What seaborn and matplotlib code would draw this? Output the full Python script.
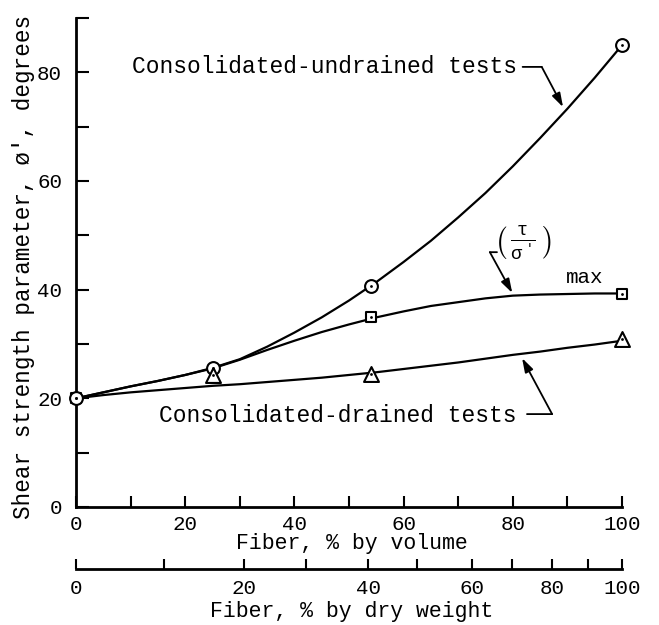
import numpy as np
import pandas as pd
import matplotlib
matplotlib.use("Agg")
import matplotlib.pyplot as plt
import seaborn as sns

# ---- data ----
# measured points (fiber % by volume)
vol_undrained = [0, 25, 54, 100]
phi_undrained = [20.0, 25.5, 40.7, 85.0]
vol_tau = [0, 54, 100]
phi_tau = [20.0, 34.9, 39.2]
vol_drained = [25, 54, 100]
phi_drained = [24.3, 24.5, 30.9]

# traced curves (every 5 % by volume)
curve_x = [0, 5, 10, 15, 20, 25, 30, 35, 40, 45, 50,
           55, 60, 65, 70, 75, 80, 85, 90, 95, 100]
undrained_curve = [20.0, 21.1, 22.2, 23.2, 24.3, 25.6, 27.2, 29.5, 32.1, 34.9, 38.0,
                   41.4, 45.1, 49.0, 53.3, 57.8, 62.7, 67.9, 73.3, 79.0, 85.0]
tau_curve = [20.0, 21.1, 22.2, 23.2, 24.3, 25.5, 27.1, 28.9, 30.6, 32.2, 33.6,
             34.9, 36.0, 37.0, 37.7, 38.4, 38.9, 39.1, 39.2, 39.3, 39.3]
drained_curve = [20.0, 20.6, 21.1, 21.5, 21.9, 22.3, 22.6, 23.0, 23.4, 23.8, 24.3,
                 24.8, 25.4, 26.0, 26.6, 27.3, 28.0, 28.6, 29.3, 29.9, 30.6]

# axis ticks
vol_ticks = [0, 10, 20, 30, 40, 50, 60, 70, 80, 90, 100]
vol_labels = ["0", "", "20", "", "40", "", "60", "", "80", "", "100"]
y_ticks = [0, 10, 20, 30, 40, 50, 60, 70, 80, 90]
y_labels = ["0", "", "20", "", "40", "", "60", "", "80", ""]
# dry-weight scale: tick values and their position on the volume scale
dw_ticks = [0, 10, 20, 30, 40, 50, 60, 70, 80, 90, 100]
dw_pos_vol = [0, 16.1, 30.8, 42.1, 53.5, 62.5, 72.5, 79.9, 87.2, 93.8, 100]
dw_labels = ["0", "", "20", "", "40", "", "60", "", "80", "", "100"]

sns.set_theme(style="ticks")
plt.rcParams["font.family"] = ["Liberation Mono", "DejaVu Sans"]
plt.rcParams["mathtext.fontset"] = "custom"
plt.rcParams["mathtext.rm"] = "Liberation Mono"
plt.rcParams["mathtext.it"] = "Liberation Mono"
plt.rcParams["mathtext.tt"] = "Liberation Mono"

fig = plt.figure(figsize=(6.59, 6.25), dpi=100)
ax = fig.add_axes([76 / 659, 1 - 507 / 625, 546 / 659, 489 / 625])

lw = 1.6
for cy in (undrained_curve, tau_curve, drained_curve):
    sns.lineplot(x=curve_x, y=cy, ax=ax, color="black", linewidth=lw,
                 clip_on=False, zorder=2)

mk = dict(facecolor="white", edgecolor="black", linewidth=1.5, clip_on=False, zorder=4)
sns.scatterplot(x=vol_tau, y=phi_tau, ax=ax, marker="s", s=55, **mk)
sns.scatterplot(x=vol_undrained, y=phi_undrained, ax=ax, marker="o", s=85, **mk)
sns.scatterplot(x=vol_drained, y=phi_drained, ax=ax, marker="^", s=115, **mk)
for xs, ys in ((vol_tau, phi_tau), (vol_undrained, phi_undrained), (vol_drained, phi_drained)):
    sns.scatterplot(x=xs, y=ys, ax=ax, marker="o", s=4, color="black",
                    linewidth=0, clip_on=False, zorder=5)

ax.set_xlim(0, 100)
ax.set_ylim(0, 90)
for s in ("top", "right"):
    ax.spines[s].set_visible(False)
for s in ("left", "bottom"):
    ax.spines[s].set_linewidth(2.0)
    ax.spines[s].set_color("black")

ax.set_xticks(vol_ticks)
ax.set_xticklabels(vol_labels)
ax.set_yticks(y_ticks)
ax.set_yticklabels(y_labels)
ax.tick_params(axis="x", direction="in", length=8, width=1.5, pad=6,
               labelsize=15, colors="black")
ax.tick_params(axis="y", direction="in", length=9.5, width=1.5, pad=10,
               labelsize=15, colors="black")

ax.set_xlabel("Fiber, % by volume", fontsize=15.5, color="black")
ax.xaxis.set_label_coords(0.505, -0.0755)
ax.xaxis.label.set_va("center")
ax.set_ylabel("Shear strength parameter, ø', degrees", fontsize=16.3, color="black")
ax.yaxis.set_label_coords(-0.096, 0.49)
ax.yaxis.label.set_va("center")

def fwd(v):
    return np.interp(v, dw_pos_vol, dw_ticks)

def inv(w):
    return np.interp(w, dw_ticks, dw_pos_vol)

sec = ax.secondary_xaxis(-0.1268, functions=(fwd, inv))
sec.set_xticks(dw_ticks)
sec.set_xticklabels(dw_labels)
sec.spines["bottom"].set_linewidth(2.0)
sec.spines["bottom"].set_color("black")
sec.tick_params(axis="x", direction="in", length=7, width=1.5, pad=7,
                labelsize=15, colors="black")
fig.text((76 + 0.505 * 546) / 659, 1 - 612 / 625, "Fiber, % by dry weight",
         ha="center", va="center", fontsize=15.5, color="black")

# annotations
tfs = 16.5
arrow = dict(arrowstyle="-|>,head_length=0.7,head_width=0.22",
             lw=1.3, color="black", shrinkA=0, shrinkB=0)
line = dict(arrowstyle="-", lw=1.3, color="black", shrinkA=0, shrinkB=0)

ax.text(80.7, 81.0, "Consolidated-undrained tests", ha="right", va="center",
        fontsize=tfs, color="black")
ax.annotate("", xy=(85.3, 81.0), xytext=(81.8, 81.0), arrowprops=line)
ax.annotate("", xy=(89.2, 73.6), xytext=(85.3, 81.0), arrowprops=arrow)

ax.text(80.7, 16.9, "Consolidated-drained tests", ha="right", va="center",
        fontsize=tfs, color="black")
ax.annotate("", xy=(87.2, 17.1), xytext=(82.6, 17.1), arrowprops=line)
ax.annotate("", xy=(81.7, 27.4), xytext=(87.2, 17.1), arrowprops=arrow)

ax.text(81.9, 48.6, r"$\left(\;\frac{\tau}{\sigma\;'}\;\right)$", ha="center",
        va="center", fontsize=19, color="black")
ax.text(93.2, 42.3, "max", ha="center", va="center", fontsize=15, color="black")
ax.annotate("", xy=(77.1, 46.9), xytext=(75.8, 46.9), arrowprops=line)
ax.annotate("", xy=(79.9, 39.4), xytext=(75.8, 46.9), arrowprops=arrow)

fig.savefig("out.png", dpi=100)
